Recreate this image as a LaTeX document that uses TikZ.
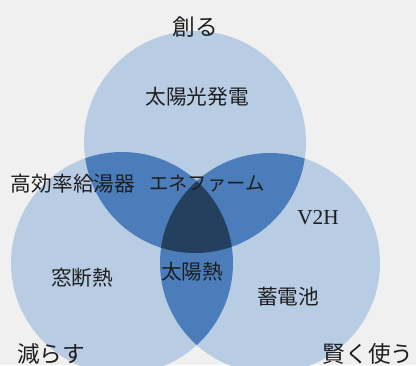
\documentclass[tikz,border=0pt]{standalone}
\usepackage{fontspec}
\newfontfamily\jpfont{Noto Sans CJK JP}
\setmainfont{Liberation Serif}
\definecolor{bgpaper}{HTML}{F0F0F0}
\definecolor{lightset}{HTML}{B8CCE4}
\definecolor{pairset}{HTML}{4A7DBA}
\definecolor{coreset}{HTML}{253F5F}
\definecolor{labelink}{HTML}{1E1E1E}
\begin{document}
\begin{tikzpicture}[x=0.75pt,y=-0.75pt,
    lbl/.style={text=labelink,inner sep=0pt,font=\jpfont\fontsize{15.5}{18}\selectfont},
    head/.style={lbl,font=\jpfont\fontsize{17}{20}\selectfont}]
        \fill[bgpaper] (0,0) rectangle (416,365);
        \useasboundingbox (0,0) rectangle (416,365);
        \coordinate (ctop) at (195,142);
        \coordinate (cleft) at (122,263);
        \coordinate (cright) at (270,263);
        % single circles
        \fill[lightset] (ctop) circle (83.25pt);
        \fill[lightset] (cleft) circle (83.25pt);
        \fill[lightset] (cright) circle (82.5pt);
        % pair overlaps
        \begin{scope}
            \clip (ctop) circle (83.25pt);
            \fill[pairset] (cleft) circle (83.25pt);
            \fill[pairset] (cright) circle (82.5pt);
        \end{scope}
        \begin{scope}
            \clip (cleft) circle (83.25pt);
            \fill[pairset] (cright) circle (82.5pt);
        \end{scope}
        % centre
        \begin{scope}
            \clip (ctop) circle (83.25pt);
            \clip (cleft) circle (83.25pt);
            \fill[coreset] (cright) circle (82.5pt);
        \end{scope}
        \node[head] (create) at (195,27) {創る};
        \node[head] (reduce) at (51,354) {減らす};
        \node[head] (smart) at (368,354) {賢く使う};
        \node[lbl] (solarpv) at (197,97) {太陽光発電};
        \node[lbl] (boiler) at (73,184) {高効率給湯器};
        \node[lbl,font=\jpfont\fontsize{14.5}{18}\selectfont] (enefarm) at (207,184) {エネファーム};
        \node[lbl,font=\fontsize{16}{18}\selectfont] (vtoh) at (318,218) {V2H};
        \node[lbl] (window) at (82,278) {窓断熱};
        \node[lbl] (solarheat) at (192,272) {太陽熱};
        \node[lbl] (battery) at (288,297) {蓄電池};
    \end{tikzpicture}
\end{document}
